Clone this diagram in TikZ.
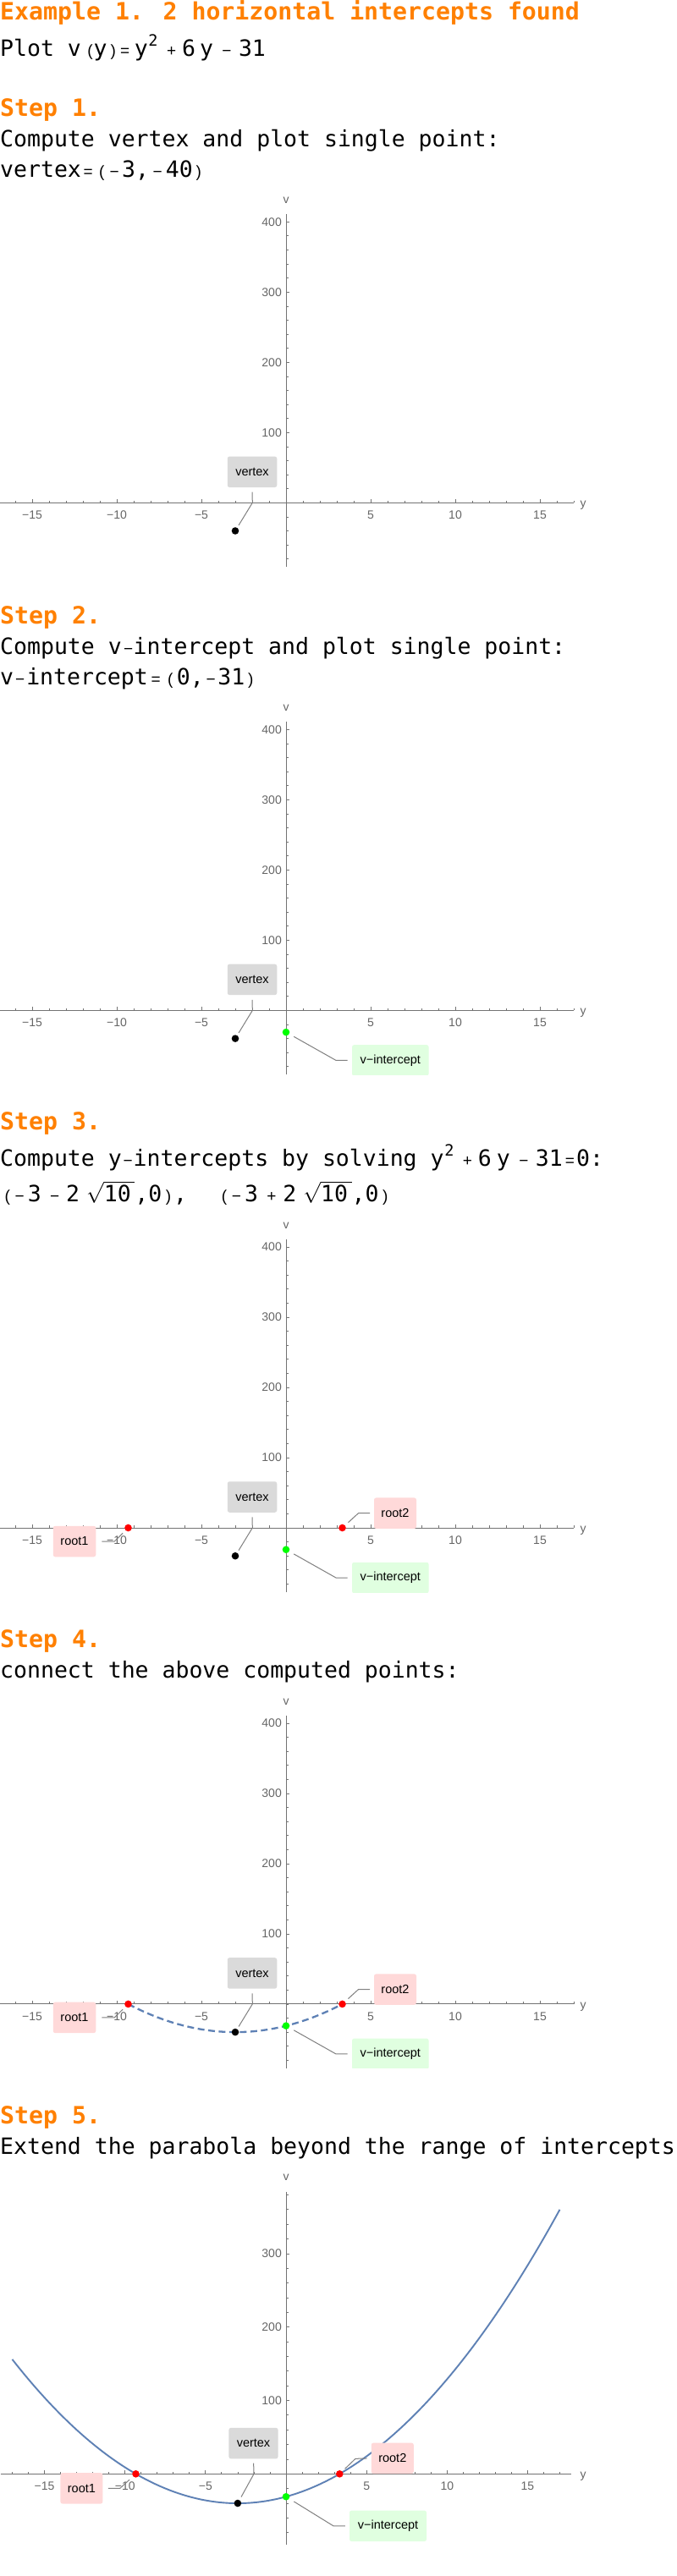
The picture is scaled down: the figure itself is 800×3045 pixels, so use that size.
\documentclass[tikz,border=0pt]{standalone}
\usepackage{fontspec}
\setmainfont{DejaVu Sans Mono}
\newfontfamily\opfont{Liberation Sans}
\newfontfamily\plotfont{Liberation Sans}

\definecolor{mmaorange}{RGB}{255,128,0}
\definecolor{mmablue}{HTML}{5E81B5}
\definecolor{axisgray}{HTML}{737373}
\definecolor{labgray}{HTML}{666666}
\definecolor{leadgray}{HTML}{808080}
\definecolor{boxgray}{HTML}{DADADA}
\definecolor{boxred}{HTML}{FFD9D9}
\definecolor{boxgreen}{HTML}{E0FFE0}
\definecolor{ptred}{HTML}{FF0000}
\definecolor{ptgreen}{HTML}{00FF00}

% operator box: width, centre offset, glyph
\newcommand{\ob}[3]{\makebox[#1pt][l]{\hspace*{#2pt}\makebox[0pt][c]{\opfont\fontsize{19}{19}\selectfont #3}}}
% superscript box
\newcommand{\supb}[3]{\makebox[#1pt][l]{\hspace*{#2pt}\makebox[0pt][c]{\raisebox{12pt}{\fontsize{18.5}{18.5}\selectfont #3}}}}
\newcommand{\rten}{$\sqrt{\hbox{10\kern4.7pt}}$}

\tikzset{
  heading/.style={anchor=base west, inner sep=0pt, text=mmaorange, font=\bfseries\fontsize{28.2}{30}\selectfont},
  body/.style={anchor=base west, inner sep=0pt, text=black, font=\fontsize{26.5}{30}\selectfont},
  axisline/.style={draw=axisgray, line width=0.9pt},
  tickmark/.style={draw=axisgray, line width=0.8pt},
  ticklab/.style={text=labgray, font=\plotfont\fontsize{14}{14}\selectfont, inner sep=0pt},
  lbox/.style={rounded corners=2.5pt, inner sep=0pt, text=black, font=\plotfont\fontsize{14.5}{14.5}\selectfont, minimum height=36.5pt},
  leader/.style={draw=leadgray, line width=1pt},
  dot/.style={circle, inner sep=0pt, minimum size=8.6pt, draw=none},
  curve/.style={draw=mmablue, line width=1.9pt, line join=round},
}

% standard axes (steps 1-4), drawn relative to the axis crossing row
\newcommand{\stdaxes}[1]{%
  \draw[axisline] (0,0) -- (678.3,0);
  \draw[axisline] (338,76) -- (338,-341);
  \foreach \t in {-16,...,17} { \draw[tickmark] ({338+20*\t},0) -- ++(0,-2.6); }
  \foreach \t in {-15,-10,-5,5,10,15} { \draw[tickmark] ({338+20*\t},0) -- ++(0,-4.3); }
  \foreach \t in {-80,-60,...,400} { \draw[tickmark] (338,{-0.83*\t}) -- ++(2.6,0); }
  \foreach \t/\n in {100/a,200/b,300/c,400/d} {
    \draw[tickmark] (338,{-0.83*\t}) -- ++(4.3,0);
    \node[ticklab, anchor=east] (vt#1\n) at (333,{-0.83*\t}) {\t};
  }
  \foreach \t/\s/\n in {-15/−15/a,-10/−10/b,-5/−5/c,5/5/d,10/10/e,15/15/f} {
    \node[ticklab] (ht#1\n) at ({338+20*\t},14.5) {\s};
  }
  \node[ticklab] (vlab#1) at (338,-357.3) {v};
  \node[ticklab] (ylab#1) at (689,3) {y};
}

\newcommand{\vxlabel}[1]{%
  \node[dot, fill=black] (pv#1) at (278,33.2) {};
  \coordinate (vxe#1) at (298.3,0);
  \node[lbox, fill=boxgray, minimum width=58.5pt] (vx#1) at (298,-36.5) {vertex};
  \draw[leader, shorten <=5.4pt, shorten >=7.8pt] (vx#1.south) -- (vxe#1) -- (pv#1.center);
}
\newcommand{\vilabel}[1]{%
  \node[dot, fill=ptgreen] (pi#1) at (338,25.7) {};
  \coordinate (vie#1) at (397,59);
  \node[lbox, fill=boxgreen, minimum width=90.6pt] (vi#1) at (461.3,59) {v−intercept};
  \draw[leader, shorten <=5.3pt, shorten >=10.6pt] (vi#1.west) -- (vie#1) -- (pi#1.center);
}
\newcommand{\ronelabel}[1]{%
  \node[dot, fill=ptred] (pa#1) at (151.5,0) {};
  \coordinate (rae#1) at (135.2,16);
  \node[lbox, fill=boxred, minimum width=50.5pt] (ra#1) at (88,16) {root1};
  \draw[leader, shorten <=7pt, shorten >=9pt] (ra#1.east) -- (rae#1) -- (pa#1.center);
}
\newcommand{\rtwolabel}[1]{%
  \node[dot, fill=ptred] (pb#1) at (404.5,0) {};
  \coordinate (rbe#1) at (423.5,-17.3);
  \node[lbox, fill=boxred, minimum width=50pt] (rb#1) at (467,-17.3) {root2};
  \draw[leader, shorten <=4.8pt, shorten >=9.4pt] (rb#1.west) -- (rbe#1) -- (pb#1.center);
}

\begin{document}
\begin{tikzpicture}[x=1pt,y=-1pt]
\useasboundingbox (0,0) rectangle (800,3045);
\fill[white] (0,0) rectangle (800,3045);

% ---------------- header ----------------
\node[heading] (title) at (0,23.3) {Example 1. 2 horizontal intercepts found};
\node[body] (plotline) at (0,66.5) {Plot v\ob{14.6}{10.6}{(}y\ob{13.7}{7.4}{)}\ob{18.7}{7.6}{=}y\supb{12.3}{6.1}{2}\ob{28}{15.5}{+}6\hspace*{5pt}y\ob{30}{16}{−}31};

% ---------------- step 1 ----------------
\node[heading] (s1) at (0,137.7) {Step 1.};
\node[body] (s1a) at (0,174) {Compute vertex and plot single point:};
\node[body] (s1b) at (0,210) {vertex\ob{16.6}{8.3}{=}\ob{15.4}{7.7}{(}\ob{16.3}{7.3}{−}3,\ob{19.8}{10}{−}40\ob{14}{7}{)}};
\begin{scope}[shift={(0,594.3)}]
  \stdaxes{1}
  \begin{scope}
    \clip (0,-341) rectangle (678.3,76);
    \vxlabel{1}
  \end{scope}
\end{scope}

% ---------------- step 2 ----------------
\node[heading] (s2) at (0,737) {Step 2.};
\node[body] (s2a) at (0,773) {Compute v\ob{13.9}{7.9}{−}intercept and plot single point:};
\node[body] (s2b) at (0,809.3) {v\ob{15.1}{7.55}{−}intercept\ob{18.8}{9.4}{=}\ob{15.2}{7.6}{(}0,\ob{16.6}{8.3}{−}31\ob{14}{7}{)}};
\begin{scope}[shift={(0,1194.4)}]
  \stdaxes{2}
  \begin{scope}
    \clip (0,-341) rectangle (678.3,76);
    \vxlabel{2}
    \vilabel{2}
  \end{scope}
\end{scope}

% ---------------- step 3 ----------------
\node[heading] (s3) at (0,1335.7) {Step 3.};
\node[body] (s3a) at (0,1378) {Compute y\ob{13.9}{7.4}{−}intercepts by solving y\supb{12.3}{6.3}{2}\ob{28}{15.5}{+}6\hspace*{6pt}y\ob{30}{16}{−}31\ob{16.4}{8.6}{=}0:};
\node[body] (s3b) at (0,1420) {\ob{14}{8.7}{(}\ob{18.8}{9}{−}3\ob{29.2}{15.7}{−}2\hspace*{8pt}\rten,0\ob{13.8}{7.8}{)},\hspace*{35.3pt}\ob{14}{8.7}{(}\ob{18.8}{9}{−}3\ob{29.2}{15.7}{+}2\hspace*{8pt}\rten,0\ob{13.8}{7.8}{)}};
\begin{scope}[shift={(0,1806)}]
  \stdaxes{3}
  \begin{scope}
    \clip (0,-341) rectangle (678.3,76);
    \vxlabel{3}
    \vilabel{3}
    \ronelabel{3}
    \rtwolabel{3}
  \end{scope}
\end{scope}

% ---------------- step 4 ----------------
\node[heading] (s4) at (0,1947.5) {Step 4.};
\node[body] (s4a) at (0,1983.2) {connect the above computed points:};
\begin{scope}[shift={(0,2368.9)}]
  \stdaxes{4}
  \begin{scope}
    \clip (0,-341) rectangle (678.3,76);
    \draw[curve, line width=2.3pt, dash pattern=on 8pt off 4.5pt] plot[domain=-9.3246:3.3246, samples=80] ({338+20*\x},{-0.83*(\x*\x+6*\x-31)});
    \vxlabel{4}
    \vilabel{4}
    \ronelabel{4}
    \rtwolabel{4}
  \end{scope}
\end{scope}

% ---------------- step 5 ----------------
\node[heading] (s5) at (0,2510.6) {Step 5.};
\node[body] (s5a) at (0,2546.7) {Extend the parabola beyond the range of intercepts};
\begin{scope}[shift={(0,2924.3)}]
  \draw[axisline] (0.5,0) -- (675,0);
  \draw[axisline] (338,83.6) -- (338,-333.3);
  \foreach \t in {-17,...,17} { \draw[tickmark] ({338+19.03*\t},0) -- ++(0,-2.6); }
  \foreach \t in {-15,-10,-5,5,10,15} { \draw[tickmark] ({338+19.03*\t},0) -- ++(0,-4.3); }
  \foreach \t in {-80,-60,...,380} { \draw[tickmark] (338,{-0.868*\t}) -- ++(2.6,0); }
  \foreach \t/\n in {100/a,200/b,300/c} {
    \draw[tickmark] (338,{-0.868*\t}) -- ++(4.3,0);
    \node[ticklab, anchor=east] (vt5\n) at (333,{-0.868*\t}) {\t};
  }
  \foreach \t/\s/\n in {-15/−15/a,-10/−10/b,-5/−5/c,5/5/d,10/10/e,15/15/f} {
    \node[ticklab] (ht5\n) at ({338+19.03*\t},14.5) {\s};
  }
  \node[ticklab] (vlab5) at (338,-350.6) {v};
  \node[ticklab] (ylab5) at (689,3) {y};

  \draw[curve] plot[domain=-17:17, samples=120] ({338+19.03*\x},{-0.868*(\x*\x+6*\x-31)});

  % vertex
  \node[dot, fill=black] (pv5) at (280.9,34.7) {};
  \coordinate (vxe5) at (300,0);
  \node[lbox, fill=boxgray, minimum width=58.2pt] (vx5) at (299.5,-36.2) {vertex};
  \draw[leader, shorten <=5.1pt, shorten >=8.5pt] (vx5.south) -- (vxe5) -- (pv5.center);
  % v-intercept
  \node[dot, fill=ptgreen] (pi5) at (338,26.9) {};
  \coordinate (vie5) at (394,61.5);
  \node[lbox, fill=boxgreen, minimum width=91pt] (vi5) at (458.5,61.5) {v−intercept};
  \draw[leader, shorten <=5pt, shorten >=11pt] (vi5.west) -- (vie5) -- (pi5.center);
  % root1
  \node[dot, fill=ptred] (pa5) at (160.5,0) {};
  \coordinate (rae5) at (141.8,17);
  \node[lbox, fill=boxred, minimum width=50pt] (ra5) at (96.4,17) {root1};
  \draw[leader, shorten <=6.2pt, shorten >=10.1pt] (ra5.east) -- (rae5) -- (pa5.center);
  % root2
  \node[dot, fill=ptred] (pb5) at (401.3,0) {};
  \coordinate (rbe5) at (420,-18);
  \node[lbox, fill=boxred, minimum width=50pt] (rb5) at (463.8,-18.5) {root2};
  \draw[leader, shorten <=5.1pt, shorten >=8.7pt] (rb5.west) -- (rbe5) -- (pb5.center);
\end{scope}
\end{tikzpicture}
\end{document}
